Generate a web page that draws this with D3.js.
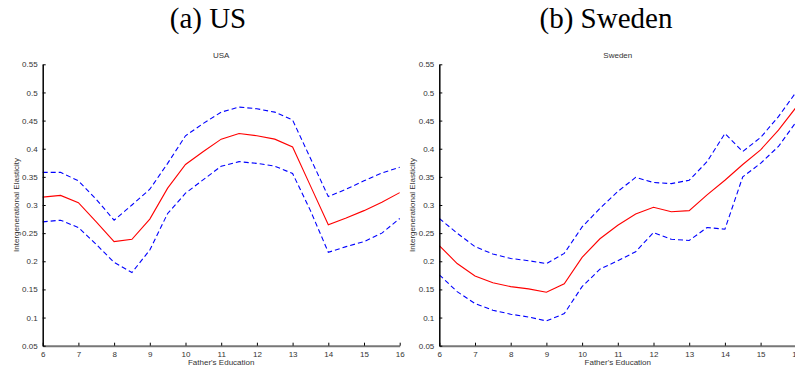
<!DOCTYPE html>
<html><head><meta charset="utf-8">
<script src="https://cdn.jsdelivr.net/npm/d3@7"></script>
<style>body{margin:0;background:#fff}svg{display:block}</style>
</head><body>
<svg id="c" width="795" height="369"></svg>
<script>
const educ = [6,6.5,7,7.5,8,8.5,9,9.5,10,10.5,11,11.5,12,12.5,13,13.5,14,14.5,15,15.5,16];
const usEst   = [0.314,0.317,0.304,0.270,0.235,0.239,0.275,0.330,0.372,0.395,0.417,0.427,0.423,0.417,0.403,0.334,0.265,0.277,0.290,0.305,0.322];
const usUpper = [0.358,0.358,0.343,0.310,0.273,0.300,0.328,0.374,0.423,0.445,0.465,0.474,0.471,0.465,0.451,0.383,0.315,0.328,0.343,0.357,0.367];
const usLower = [0.270,0.273,0.260,0.230,0.198,0.180,0.220,0.285,0.321,0.345,0.369,0.377,0.374,0.369,0.356,0.290,0.216,0.226,0.235,0.250,0.276];
const seEst   = [0.228,0.196,0.174,0.162,0.155,0.151,0.145,0.160,0.207,0.240,0.264,0.284,0.296,0.288,0.290,0.318,0.344,0.372,0.398,0.433,0.474];
const seUpper = [0.276,0.250,0.226,0.213,0.205,0.201,0.196,0.214,0.261,0.294,0.324,0.349,0.340,0.338,0.344,0.377,0.427,0.395,0.420,0.457,0.501];
const seLower = [0.176,0.146,0.125,0.113,0.106,0.101,0.094,0.107,0.155,0.186,0.201,0.217,0.251,0.239,0.237,0.260,0.257,0.350,0.374,0.404,0.448];
const xTicks = [6,7,8,9,10,11,12,13,14,15,16];
const yTicks = [0.05,0.1,0.15,0.2,0.25,0.3,0.35,0.4,0.45,0.5,0.55];
const panelTitles = ["(a) US","(b) Sweden"];
const plotTitles = ["USA","Sweden"];

const svg = d3.select("#c");
const plotTop = 64.3, plotBottom = 345.7;
const y = d3.scaleLinear().domain([0.05,0.55]).range([plotBottom, plotTop]);

function panel(x0, x1, est, up, lo, title, subtitle, titleX) {
  const g = svg.append("g");
  const x = d3.scaleLinear().domain([6,16]).range([x0, x1]);
  const fmt = d => String(+d.toFixed(2));

  svg.append("text").attr("x", titleX).attr("y", 28).attr("text-anchor","middle")
    .attr("font-family","'Liberation Serif', 'DejaVu Serif', serif").attr("font-size", 29)
    .attr("fill","#000").text(title);
  g.append("text").attr("x", (x0+x1)/2).attr("y", 58).attr("text-anchor","middle")
    .attr("font-family","'Liberation Sans', Arial, sans-serif").attr("font-size", 8)
    .attr("fill","#333").text(subtitle);

  const line = d3.line().x((d,i)=>x(educ[i])).y(d=>y(d));
  g.append("path").datum(up).attr("d", line).attr("fill","none")
    .attr("stroke","#0000ff").attr("stroke-width",1.1).attr("stroke-dasharray","5,3");
  g.append("path").datum(lo).attr("d", line).attr("fill","none")
    .attr("stroke","#0000ff").attr("stroke-width",1.1).attr("stroke-dasharray","5,3");
  g.append("path").datum(est).attr("d", line).attr("fill","none")
    .attr("stroke","#ff0000").attr("stroke-width",1.1);

  const xa = g.append("g").attr("transform",`translate(0,${plotBottom})`)
    .call(d3.axisBottom(x).tickValues(xTicks).tickSizeInner(-3).tickSizeOuter(0).tickPadding(6).tickFormat(d3.format("d")));
  xa.select(".domain").attr("stroke","#777").attr("stroke-width",2);
  xa.selectAll(".tick line").attr("stroke","#000");
  xa.selectAll("text").attr("font-family","'Liberation Sans', Arial, sans-serif").attr("font-size",8).attr("fill","#333");

  const ya = g.append("g").attr("transform",`translate(${x0},0)`)
    .call(d3.axisLeft(y).tickValues(yTicks).tickSizeInner(-3).tickSizeOuter(0).tickPadding(5).tickFormat(fmt));
  ya.select(".domain").attr("stroke","#000").attr("stroke-width",1.5);
  ya.selectAll(".tick line").attr("stroke","#000");
  ya.selectAll("text").attr("font-family","'Liberation Sans', Arial, sans-serif").attr("font-size",8).attr("fill","#333");

  g.append("text").attr("x",(x0+x1)/2).attr("y",365).attr("text-anchor","middle")
    .attr("font-family","'Liberation Sans', Arial, sans-serif").attr("font-size",8).attr("fill","#333")
    .text("Father's Education");
  g.append("text").attr("transform",`translate(${x0-24},205) rotate(-90)`).attr("text-anchor","middle")
    .attr("font-family","'Liberation Sans', Arial, sans-serif").attr("font-size",8).attr("fill","#333")
    .text("Intergenerational Elasticity");
}

panel(42.7, 399.7, usEst, usUpper, usLower, panelTitles[0], plotTitles[0], 208);
panel(439.3, 796.3, seEst, seUpper, seLower, panelTitles[1], plotTitles[1], 606);
</script>
</body></html>
